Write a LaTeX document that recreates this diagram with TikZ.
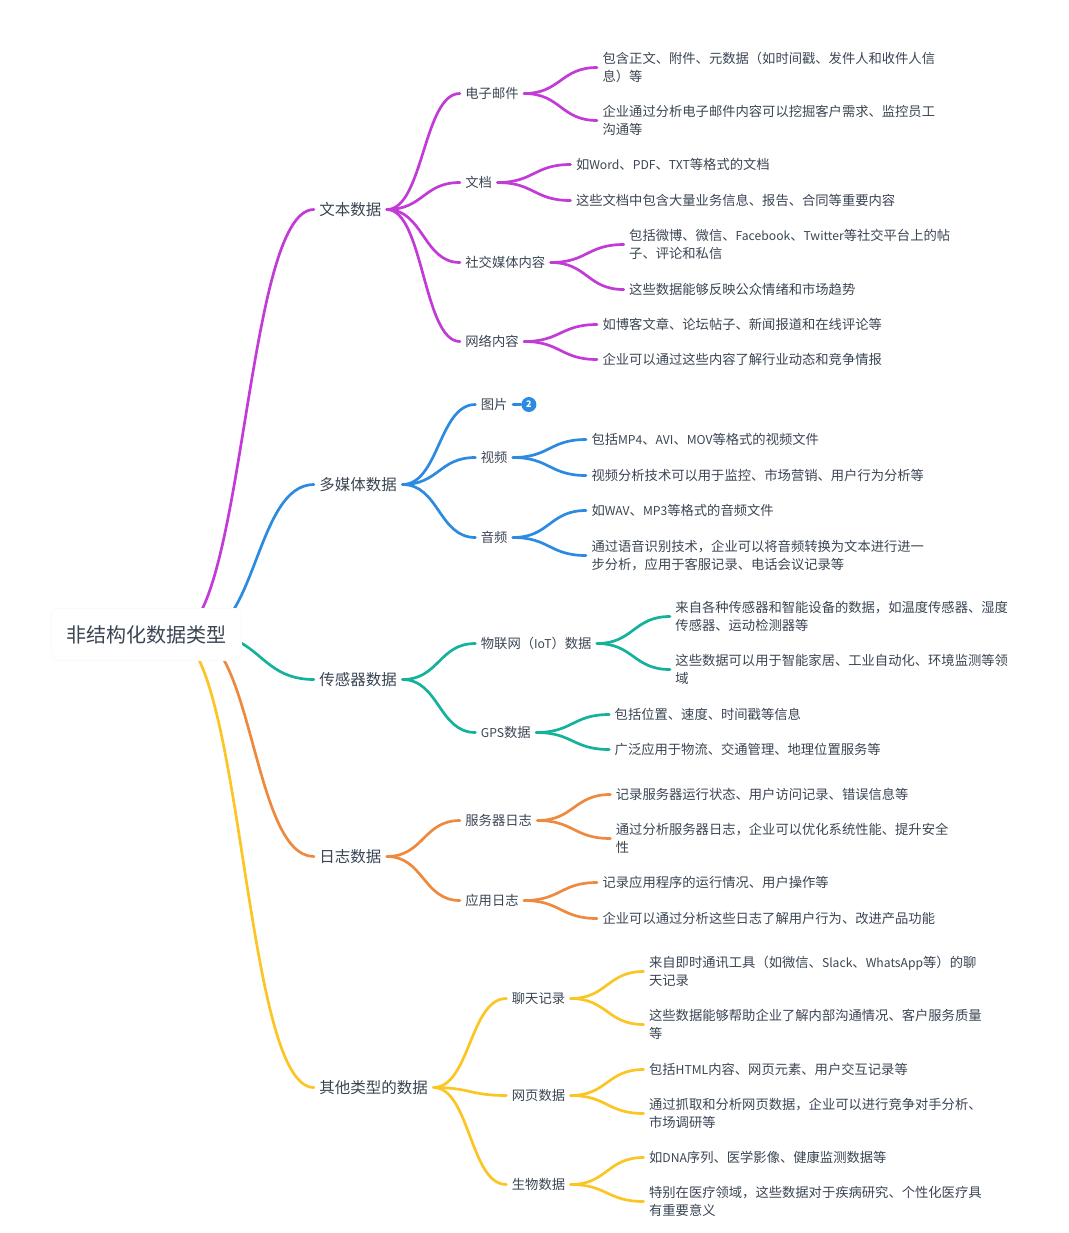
\documentclass[tikz,border=0pt]{standalone}
\usepackage{fontspec}
\setmainfont{Noto Sans CJK SC}
\newfontfamily\latinpart[Scale=0.915]{Noto Sans CJK SC}
\newcommand{\la}[1]{{\latinpart #1}}
\usetikzlibrary{calc,backgrounds,positioning}
\definecolor{inkgrey}{HTML}{3A4553}
\definecolor{mindpurple}{HTML}{C23BD6}
\definecolor{mindblue}{HTML}{2C8AE0}
\definecolor{mindteal}{HTML}{14B29A}
\definecolor{mindorange}{HTML}{ED8A3F}
\definecolor{mindyellow}{HTML}{FBC524}
\tikzstyle{rootbox}=[draw=black!2,fill=white,rounded corners=3pt,minimum width=95pt,
  minimum height=26pt,inner sep=0pt,text=inkgrey,font=\fontsize{10}{12}\selectfont]
\tikzstyle{topic}=[inner sep=0pt,outer xsep=2.75pt,text=inkgrey,font=\fontsize{7.75}{10}\selectfont]
\tikzstyle{sub}=[inner sep=0pt,outer xsep=2.75pt,text=inkgrey,font=\fontsize{6.65}{8.8}\selectfont]
\tikzstyle{leaf}=[sub,align=left]
\tikzstyle{link}=[line width=1.35pt,line cap=round]
\tikzstyle{badge}=[circle,fill=mindblue,text=white,inner sep=0pt,minimum size=7.5pt,
  font=\fontsize{4.5}{5}\selectfont\bfseries]
\newcommand{\branch}[2]{\draw[link] (#1) let \p1=(#1), \p2=(#2) in
  .. controls ({.5*\x1+.5*\x2},\y1) and ({.5*\x1+.5*\x2},\y2) .. (\p2);}

\begin{document}
\begin{tikzpicture}[node distance=36.5pt]
  \useasboundingbox (0pt,0pt) rectangle (534.5pt,-616.5pt);
  \node[rootbox] (root) at (73.25pt,-317.25pt) {非结构化数据类型};

  \node[topic, right=36pt of root, yshift=212.5pt] (txt)    {文本数据};
  \node[topic, right=36pt of root, yshift=75pt]    (media)  {多媒体数据};
  \node[topic, right=36pt of root, yshift=-22.5pt] (sensor) {传感器数据};
  \node[topic, right=36pt of root, yshift=-111pt]  (logs)   {日志数据};
  \node[topic, right=36pt of root, yshift=-226.5pt] (other) {其他类型的数据};

  % text data
  \node[sub, right=of txt, yshift=58pt]     (mail)   {电子邮件};
  \node[sub, right=of txt, yshift=13.5pt]   (doc)    {文档};
  \node[sub, right=of txt, yshift=-26.5pt]  (social) {社交媒体内容};
  \node[sub, right=of txt, yshift=-66pt]    (web)    {网络内容};
  \node[leaf, right=of mail, yshift=13pt]   (mail1) {包含正文、附件、元数据（如时间戳、发件人和收件人信\\息）等};
  \node[leaf, right=of mail, yshift=-13.5pt] (mail2) {企业通过分析电子邮件内容可以挖掘客户需求、监控员工\\沟通等};
  \node[leaf, right=of doc, yshift=9pt]     (doc1) {如\la{Word}、\la{PDF}、\la{TXT}等格式的文档};
  \node[leaf, right=of doc, yshift=-9pt]    (doc2) {这些文档中包含大量业务信息、报告、合同等重要内容};
  \node[leaf, right=of social, yshift=9pt]  (social1) {包括微博、微信、\la{Facebook}、\la{Twitter}等社交平台上的帖\\子、评论和私信};
  \node[leaf, right=of social, yshift=-13.5pt] (social2) {这些数据能够反映公众情绪和市场趋势};
  \node[leaf, right=of web, yshift=8.5pt]   (web1) {如博客文章、论坛帖子、新闻报道和在线评论等};
  \node[leaf, right=of web, yshift=-9pt]    (web2) {企业可以通过这些内容了解行业动态和竞争情报};

  % media data
  \node[sub, right=of media, yshift=40pt]    (pic)   {图片};
  \node[sub, right=of media, yshift=13.5pt]  (video) {视频};
  \node[sub, right=of media, yshift=-26.5pt] (audio) {音频};
  \node[badge, right=4pt of pic]             (count) {2};
  \node[leaf, right=of video, yshift=9pt]    (video1) {包括\la{MP4}、\la{AVI}、\la{MOV}等格式的视频文件};
  \node[leaf, right=of video, yshift=-9pt]   (video2) {视频分析技术可以用于监控、市场营销、用户行为分析等};
  \node[leaf, right=of audio, yshift=13.5pt] (audio1) {如\la{WAV}、\la{MP3}等格式的音频文件};
  \node[leaf, right=of audio, yshift=-9pt]   (audio2) {通过语音识别技术，企业可以将音频转换为文本进行进一\\步分析，应用于客服记录、电话会议记录等};

  % sensor data
  \node[sub, right=of sensor, yshift=18pt]   (iot) {物联网（\la{IoT}）数据};
  \node[sub, right=of sensor, yshift=-26.5pt] (gps) {\la{GPS}数据};
  \node[leaf, right=of iot, yshift=13.5pt]   (iot1) {来自各种传感器和智能设备的数据，如温度传感器、湿度\\传感器、运动检测器等};
  \node[leaf, right=of iot, yshift=-13pt]    (iot2) {这些数据可以用于智能家居、工业自动化、环境监测等领\\域};
  \node[leaf, right=of gps, yshift=9pt]      (gps1) {包括位置、速度、时间戳等信息};
  \node[leaf, right=of gps, yshift=-8.5pt]   (gps2) {广泛应用于物流、交通管理、地理位置服务等};

  % log data
  \node[sub, right=of logs, yshift=18pt]     (server) {服务器日志};
  \node[sub, right=of logs, yshift=-22pt]    (app)    {应用日志};
  \node[leaf, right=of server, yshift=13pt]  (server1) {记录服务器运行状态、用户访问记录、错误信息等};
  \node[leaf, right=of server, yshift=-9pt]  (server2) {通过分析服务器日志，企业可以优化系统性能、提升安全\\性};
  \node[leaf, right=of app, yshift=9pt]      (app1) {记录应用程序的运行情况、用户操作等};
  \node[leaf, right=of app, yshift=-9pt]     (app2) {企业可以通过分析这些日志了解用户行为、改进产品功能};

  % other data
  \node[sub, right=of other, yshift=44.5pt]  (chat) {聊天记录};
  \node[sub, right=of other, yshift=-4pt]    (page) {网页数据};
  \node[sub, right=of other, yshift=-48.5pt] (bio)  {生物数据};
  \node[leaf, right=of chat, yshift=13.5pt]  (chat1) {来自即时通讯工具（如微信、\la{Slack}、\la{WhatsApp}等）的聊\\天记录};
  \node[leaf, right=of chat, yshift=-13pt]   (chat2) {这些数据能够帮助企业了解内部沟通情况、客户服务质量\\等};
  \node[leaf, right=of page, yshift=13pt]    (page1) {包括\la{HTML}内容、网页元素、用户交互记录等};
  \node[leaf, right=of page, yshift=-9pt]    (page2) {通过抓取和分析网页数据，企业可以进行竞争对手分析、\\市场调研等};
  \node[leaf, right=of bio, yshift=13.5pt]   (bio1) {如\la{DNA}序列、医学影像、健康监测数据等};
  \node[leaf, right=of bio, yshift=-8.5pt]   (bio2) {特别在医疗领域，这些数据对于疾病研究、个性化医疗具\\有重要意义};

  % the root box hides where the branches start
  \coordinate (hubA) at ([xshift=14.5pt]root.center);
  \coordinate (hubB) at ([xshift=26pt]root.center);
  \coordinate (hubC) at ([xshift=30pt]root.center);
  \coordinate (hubD) at ([xshift=23pt]root.center);
  \coordinate (hubE) at ([xshift=13pt]root.center);

  \begin{scope}[on background layer]
    \begin{scope}[mindpurple]
      \branch{hubA}{txt.west}
      \foreach \a/\b in {txt/mail,txt/doc,txt/social,txt/web,mail/mail1,mail/mail2,
        doc/doc1,doc/doc2,social/social1,social/social2,web/web1,web/web2}
        {\branch{\a.east}{\b.west}}
    \end{scope}
    \begin{scope}[mindblue]
      \branch{hubB}{media.west}
      \foreach \a/\b in {media/pic,media/video,media/audio,video/video1,video/video2,
        audio/audio1,audio/audio2}
        {\branch{\a.east}{\b.west}}
      \draw[link] (pic.east) -- (count);
    \end{scope}
    \begin{scope}[mindteal]
      \branch{hubC}{sensor.west}
      \foreach \a/\b in {sensor/iot,sensor/gps,iot/iot1,iot/iot2,gps/gps1,gps/gps2}
        {\branch{\a.east}{\b.west}}
    \end{scope}
    \begin{scope}[mindorange]
      \branch{hubD}{logs.west}
      \foreach \a/\b in {logs/server,logs/app,server/server1,server/server2,app/app1,app/app2}
        {\branch{\a.east}{\b.west}}
    \end{scope}
    \begin{scope}[mindyellow]
      \branch{hubE}{other.west}
      \foreach \a/\b in {other/chat,other/page,other/bio,chat/chat1,chat/chat2,
        page/page1,page/page2,bio/bio1,bio/bio2}
        {\branch{\a.east}{\b.west}}
    \end{scope}
  \end{scope}
\end{tikzpicture}
\end{document}
